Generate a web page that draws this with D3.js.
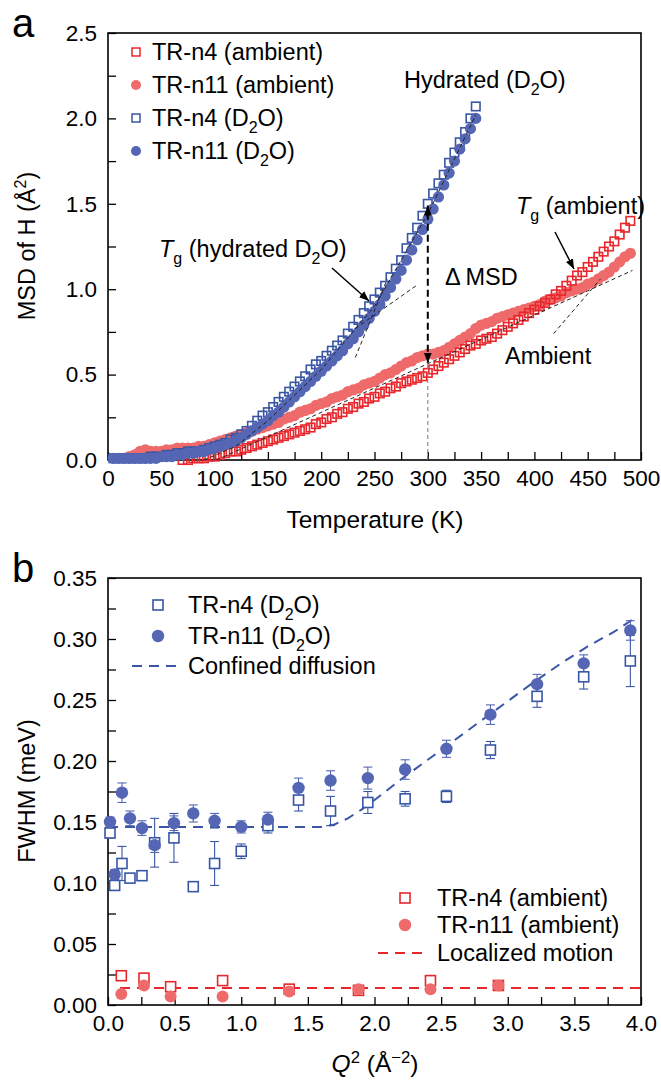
<!DOCTYPE html>
<html>
<head>
<meta charset="utf-8">
<script src="https://cdn.jsdelivr.net/npm/d3@7"></script>
<style>
  body { margin: 0; background: #fff; }
  svg text { font-family: "Liberation Sans", Arial, Helvetica, sans-serif; }
</style>
</head>
<body>
<svg id="chart" width="661" height="1082"></svg>
<script>
/* Panel a : MSD vs temperature */

var tempD2O = [5,10,15,20,25,30,35,40,45,50,55,60,65,70,75,80,85,90,95,100,
  105,110,115,120,125,130,135,140,145,150,155,160,165,170,175,180,185,190,195,200,
  205,210,215,220,225,230,235,240,245,250,255,260,265,270,275,280,285,290,295,300,
  305,310,315,320,325,330,335,340,345];
var msdN4D2O = [0.01,0.01,0.01,0.01,0.01,0.01,0.01,0.02,0.02,0.02,
  0.03,0.03,0.04,0.04,0.05,0.05,0.05,0.06,0.07,0.08,
  0.09,0.10,0.12,0.13,0.15,0.17,0.20,0.23,0.26,0.28,
  0.31,0.34,0.37,0.40,0.43,0.46,0.49,0.53,0.56,0.58,
  0.61,0.64,0.67,0.70,0.74,0.78,0.82,0.86,0.90,0.94,
  0.98,1.02,1.07,1.12,1.17,1.24,1.30,1.36,1.43,1.50,
  1.56,1.62,1.67,1.74,1.80,1.86,1.92,2.00,2.07];
var msdN11D2O = [0.01,0.01,0.01,0.01,0.01,0.01,0.01,0.01,0.01,0.02,
  0.02,0.02,0.03,0.03,0.04,0.04,0.05,0.05,0.06,0.07,
  0.08,0.09,0.10,0.11,0.13,0.15,0.17,0.19,0.21,0.23,
  0.26,0.28,0.31,0.34,0.37,0.40,0.43,0.46,0.49,0.52,
  0.55,0.58,0.61,0.64,0.68,0.71,0.75,0.79,0.83,0.87,
  0.91,0.96,1.01,1.06,1.11,1.17,1.23,1.29,1.35,1.41,
  1.47,1.54,1.61,1.68,1.75,1.82,1.88,1.94,2.00];

var tempN4Amb = [70,75,80,85,90,95,100,
  105,110,115,120,125,130,135,140,145,150,155,160,165,170,175,180,185,190,195,200,
  205,210,215,220,225,230,235,240,245,250,255,260,265,270,275,280,285,290,295,300,
  305,310,315,320,325,330,335,340,345,350,355,360,365,370,375,380,385,390,395,400,
  405,410,415,420,425,430,435,440,445,450,455,460,465,470,475,480,485,490];
var msdN4Amb = [0.00,0.00,0.01,0.01,0.01,0.02,0.02,
  0.03,0.04,0.05,0.05,0.06,0.07,0.08,0.09,0.10,0.11,
  0.12,0.13,0.14,0.15,0.16,0.17,0.18,0.19,0.21,0.22,
  0.24,0.25,0.27,0.28,0.30,0.31,0.33,0.34,0.36,0.37,
  0.39,0.40,0.42,0.43,0.45,0.46,0.47,0.48,0.49,0.51,
  0.53,0.55,0.57,0.59,0.61,0.63,0.65,0.67,0.68,0.70,
  0.71,0.72,0.74,0.76,0.78,0.80,0.82,0.84,0.86,0.88,
  0.90,0.92,0.94,0.97,0.99,1.02,1.05,1.08,1.10,1.13,
  1.16,1.19,1.22,1.25,1.28,1.32,1.36,1.40];

var tempN11Amb = [20,25,30,35,40,45,50,55,60,65,70,75,80,85,90,95,100,
  105,110,115,120,125,130,135,140,145,150,155,160,165,170,175,180,185,190,195,200,
  205,210,215,220,225,230,235,240,245,250,255,260,265,270,275,280,285,290,295,300,
  305,310,315,320,325,330,335,340,345,350,355,360,365,370,375,380,385,390,395,400,
  405,410,415,420,425,430,435,440,445,450,455,460,465,470,475,480,485,490];
var msdN11Amb = [0.02,0.03,0.05,0.06,0.05,0.05,0.05,
  0.06,0.06,0.07,0.07,0.07,0.07,0.08,0.08,0.09,0.10,
  0.11,0.12,0.13,0.14,0.15,0.16,0.17,0.18,0.19,0.20,
  0.21,0.22,0.24,0.25,0.26,0.28,0.29,0.30,0.32,0.33,
  0.34,0.36,0.37,0.38,0.40,0.41,0.42,0.44,0.45,0.46,
  0.48,0.50,0.51,0.53,0.55,0.57,0.58,0.60,0.61,0.62,
  0.62,0.63,0.64,0.66,0.68,0.70,0.72,0.74,0.77,0.79,
  0.80,0.81,0.83,0.84,0.85,0.86,0.87,0.88,0.89,0.90,
  0.91,0.93,0.94,0.95,0.96,0.98,0.99,1.00,1.01,1.03,
  1.04,1.06,1.08,1.10,1.13,1.16,1.19,1.21];

// dashed guide lines [T, MSD]
var guideD2O = [[90,0.0],[120,0.08],[150,0.23],[200,0.53],[250,0.90],[300,1.44],[345,2.02]];
var tangentD2OLow = [[232,0.77],[289,1.02]];
var tangentD2OHigh = [[232,0.60],[262,1.06]];
var guideAmb = [[102,0.0],[492,1.11]];
var tangentAmbHigh = [[418,0.74],[462,1.06]];

var tempTicksA = [0,25,50,75,100,125,150,175,200,225,250,275,300,325,350,375,400,425,450,475,500];
var msdTicks = [0,0.25,0.5,0.75,1,1.25,1.5,1.75,2,2.25,2.5];

/* Panel b : FWHM vs Q^2 */

var q2D2O = [0.015,0.05,0.105,0.165,0.255,0.35,0.495,0.64,0.80,1.0,1.2,1.43,1.67,1.95,2.23,2.54,2.87,3.22,3.57,3.92];
var fwhmN4D2O = [0.141,0.098,0.116,0.104,0.106,0.133,0.137,0.097,0.116,0.126,0.147,0.168,0.159,0.166,0.169,0.171,0.209,0.253,0.269,0.282];
var errN4D2O  = [0.004,0.004,0.014,0.003,0.003,0.020,0.020,0.002,0.018,0.006,0.006,0.009,0.012,0.009,0.006,0.005,0.007,0.009,0.010,0.021];
var fwhmN11D2O = [0.150,0.107,0.174,0.153,0.145,0.131,0.149,0.157,0.151,0.146,0.152,0.178,0.184,0.186,0.193,0.210,0.238,0.263,0.280,0.307];
var errN11D2O  = [0.004,0.004,0.008,0.006,0.006,0.006,0.006,0.007,0.006,0.005,0.006,0.008,0.008,0.009,0.008,0.007,0.008,0.008,0.007,0.008];

var q2Amb = [0.10,0.27,0.47,0.86,1.36,1.88,2.42,2.93];
var fwhmN4Amb = [0.024,0.022,0.015,0.020,0.013,0.012,0.020,0.016];
var fwhmN11Amb = [0.009,0.016,0.007,0.007,0.011,0.013,0.013,0.016];

var confinedFit = [[0,0.146],[1.6,0.146],[1.7,0.148],[1.8,0.153],[1.9,0.160],[2.0,0.168],[2.2,0.185],[2.4,0.201],
  [2.6,0.217],[2.8,0.233],[3.0,0.249],[3.2,0.265],[3.4,0.280],[3.6,0.294],[3.8,0.306],[3.95,0.317]];
var localizedFit = [[0.09,0.014],[4.0,0.014]];

var q2Ticks = [0,0.25,0.5,0.75,1,1.25,1.5,1.75,2,2.25,2.5,2.75,3,3.25,3.5,3.75,4];
var fwhmTicks = [0,0.025,0.05,0.075,0.1,0.125,0.15,0.175,0.2,0.225,0.25,0.275,0.3,0.325,0.35];

var RED = "#e8262b", SALMON = "#ef6a6a", BLUE = "#3956a6", BLUEFILL = "#5466b4";

var svg = d3.select("#chart");
svg.append("rect").attr("width", 661).attr("height", 1082).attr("fill", "#fff");

var defs = svg.append("defs");
defs.append("marker").attr("id", "head")
    .attr("viewBox", "0 0 10 10").attr("refX", 10).attr("refY", 5)
    .attr("markerWidth", 10).attr("markerHeight", 10).attr("markerUnits", "userSpaceOnUse")
    .attr("orient", "auto-start-reverse")
  .append("path").attr("d", "M0,1 L10,5 L0,9 Z").attr("fill", "#000");

var xA = d3.scaleLinear().domain([0, 500]).range([108, 641]);
var yA = d3.scaleLinear().domain([0, 2.5]).range([460, 33]);
var xB = d3.scaleLinear().domain([0, 4]).range([108, 641]);
var yB = d3.scaleLinear().domain([0, 0.35]).range([1005, 578]);

// writes a text with italic / sub / sup pieces
function richText(parent, x, y, parts, size, anchor) {
  var t = parent.append("text").attr("x", x).attr("y", y)
      .attr("font-size", size).attr("text-anchor", anchor || "start").attr("fill", "#000");
  var shift = 0;
  parts.forEach(function(p) {
    var s = t.append("tspan").text(p.t);
    var want = p.sub ? size * 0.3 : (p.sup ? -size * 0.38 : 0);
    if (want !== shift) { s.attr("dy", want - shift); shift = want; }
    if (p.sub || p.sup) s.attr("font-size", size * 0.68);
    if (p.it) s.attr("font-style", "italic");
  });
  return t;
}

function drawFrame(x, y, xTicks, yTicks, xLab, yLab) {
  var x0 = x.range()[0], x1 = x.range()[1], y0 = y.range()[0], y1 = y.range()[1];
  var gx = svg.append("g").attr("transform", "translate(0," + y0 + ")")
      .call(d3.axisBottom(x).tickValues(xTicks).tickSizeInner(-8).tickSizeOuter(0).tickPadding(10)
        .tickFormat(function(d, i) { return i % 2 ? "" : xLab(d); }));
  var gy = svg.append("g").attr("transform", "translate(" + x0 + ",0)")
      .call(d3.axisLeft(y).tickValues(yTicks).tickSizeInner(-8).tickSizeOuter(0).tickPadding(11)
        .tickFormat(function(d, i) { return i % 2 ? "" : yLab(d); }));
  [gx, gy].forEach(function(g) {
    g.select(".domain").remove();
    g.selectAll("line").attr("stroke", "#000").attr("stroke-width", 1.3);
    g.selectAll("text").attr("font-size", 22.5).attr("fill", "#000");
  });
  svg.append("rect").attr("x", x0).attr("y", y1).attr("width", x1 - x0).attr("height", y0 - y1)
      .attr("fill", "none").attr("stroke", "#000").attr("stroke-width", 1.6);
}

function squares(g, xs, ys, x, y, color, size, sw, fill) {
  g.selectAll(null).data(xs).enter().append("rect")
      .attr("x", function(d) { return x(d) - size / 2; })
      .attr("y", function(d, i) { return y(ys[i]) - size / 2; })
      .attr("width", size).attr("height", size)
      .attr("fill", fill).attr("stroke", color).attr("stroke-width", sw);
}

function circles(g, xs, ys, x, y, color, r) {
  g.selectAll(null).data(xs).enter().append("circle")
      .attr("cx", function(d) { return x(d); })
      .attr("cy", function(d, i) { return y(ys[i]); })
      .attr("r", r).attr("fill", color);
}

function errorBars(g, xs, ys, es, x, y, color) {
  xs.forEach(function(d, i) {
    var cx = x(d), lo = y(ys[i] - es[i]), hi = y(ys[i] + es[i]);
    g.append("line").attr("x1", cx).attr("x2", cx).attr("y1", lo).attr("y2", hi)
        .attr("stroke", color).attr("stroke-width", 1.1);
    [lo, hi].forEach(function(yy) {
      g.append("line").attr("x1", cx - 4.5).attr("x2", cx + 4.5).attr("y1", yy).attr("y2", yy)
          .attr("stroke", color).attr("stroke-width", 1.1);
    });
  });
}

/* ---------- panel a ---------- */
drawFrame(xA, yA, tempTicksA, msdTicks, d3.format("d"), d3.format(".1f"));

var ga = svg.append("g");
circles(ga, tempN11Amb, msdN11Amb, xA, yA, SALMON, 5.6);
squares(ga, tempN4Amb, msdN4Amb, xA, yA, RED, 8.5, 1.6, "none");
squares(ga, tempD2O, msdN4D2O, xA, yA, BLUE, 8.5, 1.6, "none");
circles(ga, tempD2O, msdN11D2O, xA, yA, BLUEFILL, 5.6);

var lineA = d3.line().x(function(d) { return xA(d[0]); }).y(function(d) { return yA(d[1]); });
[guideD2O, tangentD2OLow, tangentD2OHigh, guideAmb, tangentAmbHigh].forEach(function(pts) {
  ga.append("path").attr("d", lineA(pts)).attr("fill", "none")
      .attr("stroke", "#222").attr("stroke-width", 1).attr("stroke-dasharray", "4,3");
});

// T = 300 K marker line and the Delta MSD arrow
ga.append("line").attr("x1", xA(300)).attr("x2", xA(300)).attr("y1", yA(0)).attr("y2", yA(0.58))
    .attr("stroke", "#777").attr("stroke-width", 1).attr("stroke-dasharray", "4,3");
ga.append("line").attr("x1", xA(300)).attr("x2", xA(300)).attr("y1", yA(0.57)).attr("y2", yA(1.49))
    .attr("stroke", "#000").attr("stroke-width", 2).attr("stroke-dasharray", "7,4")
    .attr("marker-start", "url(#head)").attr("marker-end", "url(#head)");

// Tg arrows
ga.append("line").attr("x1", 332).attr("y1", 268).attr("x2", 369).attr("y2", 301)
    .attr("stroke", "#000").attr("stroke-width", 1.5).attr("marker-end", "url(#head)");
ga.append("line").attr("x1", 555).attr("y1", 232).attr("x2", 574).attr("y2", 269)
    .attr("stroke", "#000").attr("stroke-width", 1.5).attr("marker-end", "url(#head)");

richText(svg, 404, 88, [{t: "Hydrated (D"}, {t: "2", sub: true}, {t: "O)"}], 23.5);
richText(svg, 516, 214, [{t: "T", it: true}, {t: "g", sub: true}, {t: " (ambient)"}], 23.5);
richText(svg, 159, 257, [{t: "T", it: true}, {t: "g", sub: true}, {t: " (hydrated D"}, {t: "2", sub: true}, {t: "O)"}], 23.5);
richText(svg, 445, 285, [{t: "\u0394\u2009MSD"}], 23.5);
richText(svg, 505, 364, [{t: "Ambient"}], 23.5);

// legend a
var legA = [
  {y: 52, kind: "sq", color: RED, parts: [{t: "TR-n4 (ambient)"}]},
  {y: 85, kind: "ci", color: SALMON, parts: [{t: "TR-n11 (ambient)"}]},
  {y: 118, kind: "sq", color: BLUE, parts: [{t: "TR-n4 (D"}, {t: "2", sub: true}, {t: "O)"}]},
  {y: 151, kind: "ci", color: BLUEFILL, parts: [{t: "TR-n11 (D"}, {t: "2", sub: true}, {t: "O)"}]}
];
legA.forEach(function(r) {
  if (r.kind === "sq") svg.append("rect").attr("x", 132).attr("y", r.y - 4).attr("width", 8).attr("height", 8)
      .attr("fill", "none").attr("stroke", r.color).attr("stroke-width", 1.5);
  else svg.append("circle").attr("cx", 136).attr("cy", r.y).attr("r", 5).attr("fill", r.color);
  richText(svg, 152, r.y + 8, r.parts, 23.5);
});

/* ---------- panel b ---------- */
drawFrame(xB, yB, q2Ticks, fwhmTicks, d3.format(".1f"), d3.format(".2f"));

var gb = svg.append("g");
var lineB = d3.line().x(function(d) { return xB(d[0]); }).y(function(d) { return yB(d[1]); });
gb.append("path").attr("d", lineB(confinedFit)).attr("fill", "none")
    .attr("stroke", BLUE).attr("stroke-width", 2).attr("stroke-dasharray", "10,7");
gb.append("path").attr("d", lineB(localizedFit)).attr("fill", "none")
    .attr("stroke", RED).attr("stroke-width", 2).attr("stroke-dasharray", "10,7");

errorBars(gb, q2D2O, fwhmN4D2O, errN4D2O, xB, yB, BLUE);
errorBars(gb, q2D2O, fwhmN11D2O, errN11D2O, xB, yB, BLUEFILL);
squares(gb, q2D2O, fwhmN4D2O, xB, yB, BLUE, 10, 1.6, "#fff");
circles(gb, q2D2O, fwhmN11D2O, xB, yB, BLUEFILL, 6.2);
squares(gb, q2Amb, fwhmN4Amb, xB, yB, RED, 10, 1.6, "#fff");
circles(gb, q2Amb, fwhmN11Amb, xB, yB, SALMON, 6);

// legends b
var legB = [
  {x: 158, tx: 188, y: 605, kind: "sq", color: BLUE, parts: [{t: "TR-n4 (D"}, {t: "2", sub: true}, {t: "O)"}]},
  {x: 158, tx: 188, y: 636, kind: "ci", color: BLUEFILL, parts: [{t: "TR-n11 (D"}, {t: "2", sub: true}, {t: "O)"}]},
  {x: 155, tx: 188, y: 666, kind: "dash", color: BLUE, parts: [{t: "Confined diffusion"}]},
  {x: 405, tx: 437, y: 898, kind: "sq", color: RED, parts: [{t: "TR-n4 (ambient)"}]},
  {x: 405, tx: 437, y: 925, kind: "ci", color: SALMON, parts: [{t: "TR-n11 (ambient)"}]},
  {x: 401, tx: 437, y: 953, kind: "dash", color: RED, parts: [{t: "Localized motion"}]}
];
legB.forEach(function(r) {
  if (r.kind === "sq") svg.append("rect").attr("x", r.x - 5).attr("y", r.y - 5).attr("width", 10).attr("height", 10)
      .attr("fill", "#fff").attr("stroke", r.color).attr("stroke-width", 1.6);
  else if (r.kind === "ci") svg.append("circle").attr("cx", r.x).attr("cy", r.y).attr("r", 6.2).attr("fill", r.color);
  else svg.append("line").attr("x1", r.x - 23).attr("x2", r.x + 22).attr("y1", r.y).attr("y2", r.y)
      .attr("stroke", r.color).attr("stroke-width", 2).attr("stroke-dasharray", "10,7");
  richText(svg, r.tx, r.y + 8, r.parts, 23.5);
});

/* ---------- titles ---------- */
richText(svg, 375, 528, [{t: "Temperature (K)"}], 24.5, "middle");
richText(svg, 375, 1072, [{t: "Q", it: true}, {t: "2", sup: true}, {t: " (\u00c5"}, {t: "\u22122", sup: true}, {t: ")"}], 24.5, "middle");
richText(svg, 0, 0, [{t: "MSD of H (\u00c5"}, {t: "2", sup: true}, {t: ")"}], 23.5, "middle")
    .attr("transform", "translate(35,246) rotate(-90)");
richText(svg, 0, 0, [{t: "FWHM (meV)"}], 23.5, "middle")
    .attr("transform", "translate(35,791) rotate(-90)");

svg.append("text").attr("x", 12).attr("y", 37).attr("font-size", 40).text("a");
svg.append("text").attr("x", 12).attr("y", 582).attr("font-size", 40).text("b");
</script>
</body>
</html>
